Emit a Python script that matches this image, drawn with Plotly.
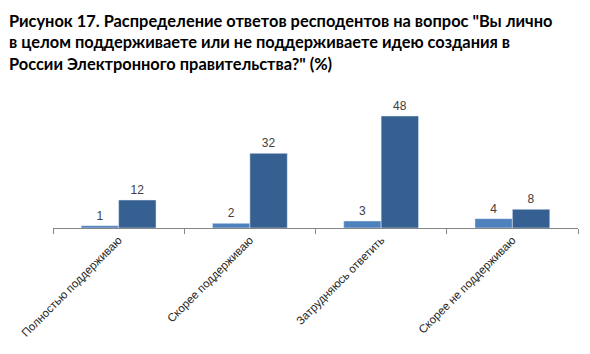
import plotly.graph_objects as go

categories = ["Полностью поддерживаю", "Скорее поддерживаю", "Затрудняюсь ответить", "Скорее не поддерживаю"]
series_a = [1, 2, 3, 4]
series_b = [12, 32, 48, 8]

title_text = ("Рисунок 17. Распределение ответов респодентов на вопрос \"Вы лично<br>"
              "в целом поддерживаете или не поддерживаете идею создания в<br>"
              "России Электронного правительства?\" (%)")

fig = go.Figure()
fig.add_trace(go.Bar(x=categories, y=series_a, marker_color="#4F81BD", text=series_a,
                     textposition="outside", cliponaxis=False,
                     textfont=dict(family="Liberation Sans, Arial", size=12, color="#404040")))
fig.add_trace(go.Bar(x=categories, y=series_b, marker_color="#366092", text=series_b,
                     textposition="outside", cliponaxis=False,
                     textfont=dict(family="Liberation Sans, Arial", size=12, color="#404040")))

fig.update_layout(
    width=590, height=354,
    margin=dict(l=52.5, r=12, t=88, b=126),
    paper_bgcolor="white", plot_bgcolor="white",
    barmode="group", bargap=0.43, bargroupgap=0,
    showlegend=False,
)
fig.add_annotation(
    text=title_text, xref="paper", yref="paper",
    x=-0.087, y=1.565, xanchor="left", yanchor="top", align="left",
    showarrow=False,
    font=dict(family="Lato", size=16.4, color="black", weight="bold"),
)
fig.update_xaxes(
    showline=True, linecolor="#868686", linewidth=1,
    ticks="outside", ticklen=5, tickcolor="#868686", tickson="boundaries",
    tickangle=-45, tickfont=dict(family="Liberation Sans, Arial", size=11.5, color="#262626"),
    showgrid=False,
)
fig.update_yaxes(range=[0, 60], visible=False, showgrid=False)

fig.write_html("out.html")
